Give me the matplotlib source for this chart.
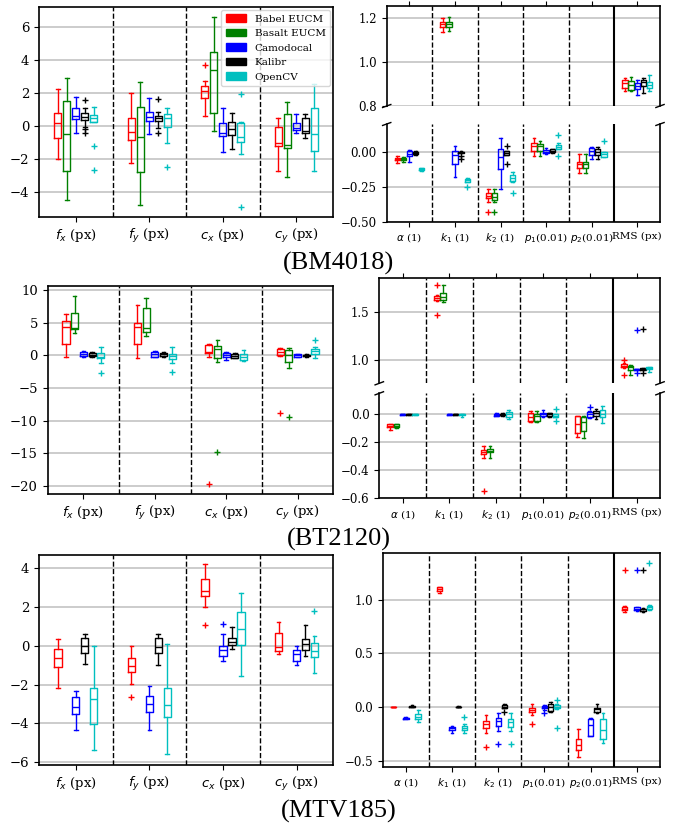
import matplotlib
matplotlib.use('Agg')
import matplotlib.pyplot as plt
from matplotlib.patches import Patch

plt.rcParams['font.family'] = ['DejaVu Serif']
plt.rcParams['mathtext.fontset'] = 'dejavusans'

METHODS = ['Babel EUCM', 'Basalt EUCM', 'Camodocal', 'Kalibr', 'OpenCV']
COLORS = ['#ff0000', '#008000', '#0000ff', '#000000', '#00bfbf']
LEFT_LABELS = [r'$f_x$ (px)', r'$f_y$ (px)', r'$c_x$ (px)', r'$c_y$ (px)']
RIGHT_LABELS = [r'$\alpha$ (1)', r'$k_1$ (1)', r'$k_2$ (1)', r'$p_1$(0.01)', r'$p_2$(0.01)', 'RMS (px)']
TITLES = ['(BM4018)', '(BT2120)', '(MTV185)']

# each entry: (whisker low, q1, median, q3, whisker high, fliers)
BM4018_INTRINSICS = {
    'Babel EUCM': [(-2.02, -0.74, 0.17, 0.82, 2.23, []), (-2.26, -0.84, -0.38, 0.47, 2.03, []),
                   (0.64, 1.69, 2.13, 2.46, 2.76, [3.71]), (-2.7, -1.19, -1.0, -0.03, 0.51, [])],
    'Basalt EUCM': [(-4.5, -2.72, -0.5, 1.53, 2.94, []), (-4.79, -2.8, -0.64, 1.14, 2.66, []),
                    (-0.28, 0.78, 3.41, 4.48, 6.65, []), (-3.07, -1.35, -1.15, 0.74, 1.45, [])],
    'Camodocal': [(-0.4, 0.41, 0.6, 1.08, 1.77, []), (-0.48, 0.31, 0.57, 0.88, 1.69, []),
                  (-1.55, -0.6, -0.44, 0.17, 1.12, []), (-0.44, -0.23, -0.13, 0.17, 0.74, [])],
    'Kalibr': [(-0.03, 0.37, 0.57, 0.82, 1.08, [1.6, -0.2, -0.4]), (-0.13, 0.33, 0.5, 0.64, 0.88, [1.63, -0.44]),
               (-1.39, -0.54, -0.19, 0.27, 0.82, []), (-0.74, -0.4, -0.3, 0.47, 0.74, [])],
    'OpenCV': [(0.23, 0.23, 0.47, 0.68, 1.18, [-1.2, -2.67]), (-1.0, -0.03, 0.51, 0.72, 1.08, [-2.5]),
               (-1.69, -0.94, -0.68, 0.17, 0.27, [1.95, -4.93]), (-2.7, -1.51, -0.5, 1.08, 2.54, [])],
}
BM4018_DISTORTION = {
    'Babel EUCM': [(-0.078, -0.06, -0.052, -0.043, -0.03, []), (1.14, 1.159, 1.174, 1.185, 1.2, []),
                   (-0.362, -0.329, -0.317, -0.298, -0.267, [-0.431]), (-0.029, 0.007, 0.043, 0.06, 0.095, []),
                   (-0.155, -0.119, -0.09, -0.076, -0.017, []), (0.869, 0.884, 0.905, 0.918, 0.93, [])],
    'Basalt EUCM': [(-0.07, -0.06, -0.052, -0.045, -0.036, []), (1.143, 1.159, 1.174, 1.185, 1.205, []),
                    (-0.362, -0.345, -0.321, -0.293, -0.267, [-0.431]), (-0.029, 0.007, 0.043, 0.055, 0.076, []),
                    (-0.155, -0.114, -0.09, -0.071, -0.017, []), (0.869, 0.875, 0.895, 0.913, 0.933, [])],
    'Camodocal': [(-0.076, -0.03, -0.017, 0.005, 0.012, []), (-0.18, -0.09, -0.02, 0.007, 0.043, []),
                  (-0.269, -0.126, -0.036, 0.019, 0.1, []), (-0.019, -0.012, 0.0, 0.012, 0.024, []),
                  (-0.055, -0.024, 0.005, 0.029, 0.036, []), (0.852, 0.879, 0.89, 0.905, 0.92, [])],
    'Kalibr': [(-0.02, -0.014, -0.007, 0.0, 0.005, []), (-0.012, -0.012, -0.005, 0.0, 0.005, [-0.03, -0.052]),
               (-0.024, -0.024, -0.007, 0.007, 0.007, [0.043, -0.088]), (-0.007, -0.002, 0.005, 0.017, 0.019, []),
               (-0.055, -0.024, 0.0, 0.019, 0.036, []), (0.86, 0.89, 0.91, 0.918, 0.928, [])],
    'OpenCV': [(-0.136, -0.131, -0.125, -0.119, -0.114, []), (-0.219, -0.214, -0.205, -0.195, -0.19, [-0.255]),
               (-0.219, -0.21, -0.186, -0.167, -0.148, [-0.293]), (0.019, 0.019, 0.036, 0.048, 0.06, [0.117, -0.031]),
               (-0.04, -0.036, -0.017, 0.0, 0.0, [0.074]), (0.867, 0.88, 0.895, 0.91, 0.94, [])],
}

BT2120_INTRINSICS = {
    'Babel EUCM': [(-0.2, 1.73, 4.29, 5.31, 6.33, []), (-0.46, 1.73, 4.29, 4.9, 7.7, []),
                   (-0.31, 0.31, 0.56, 1.58, 1.73, [-19.74]), (-0.1, 0.05, 0.56, 0.97, 1.07, [-8.88])],
    'Basalt EUCM': [(3.37, 3.98, 4.13, 6.43, 9.08, []), (3.0, 3.62, 4.23, 7.19, 8.83, []),
                    (-1.07, -0.46, 0.97, 1.48, 2.35, [-14.74]), (-1.89, -0.97, 0.05, 0.82, 1.07, [-9.49])],
    'Camodocal': [(-0.31, -0.1, 0.2, 0.46, 0.71, []), (-0.2, -0.2, 0.15, 0.56, 0.71, []),
                  (-0.71, -0.2, 0.05, 0.31, 0.56, []), (-0.31, -0.2, 0.0, 0.15, 0.2, [])],
    'Kalibr': [(-0.2, -0.1, 0.1, 0.31, 0.56, []), (-0.2, -0.1, 0.15, 0.41, 0.56, []),
               (-0.46, -0.36, -0.1, 0.2, 0.41, []), (-0.31, -0.1, 0.0, 0.1, 0.2, [])],
    'OpenCV': [(-1.22, -0.46, -0.31, 0.31, 1.33, [-2.76]), (-1.22, -0.56, -0.1, 0.2, 1.33, [-2.5]),
               (-0.82, -0.71, -0.2, 0.2, 0.82, []), (-0.46, 0.2, 0.66, 0.92, 1.22, [2.35])],
}
BT2120_DISTORTION = {
    'Babel EUCM': [(-0.112, -0.093, -0.081, -0.071, -0.069, []), (1.623, 1.63, 1.65, 1.673, 1.683, [1.789, 1.472]),
                   (-0.314, -0.286, -0.267, -0.255, -0.226, [-0.548]), (-0.057, -0.048, -0.017, 0.007, 0.026, []),
                   (-0.164, -0.136, -0.069, -0.012, -0.01, []), (0.908, 0.919, 0.937, 0.954, 0.968, [1.0, 0.84])],
    'Basalt EUCM': [(-0.1, -0.093, -0.081, -0.071, -0.069, []), (1.606, 1.63, 1.665, 1.70, 1.789, []),
                    (-0.314, -0.271, -0.26, -0.248, -0.226, []), (-0.057, -0.048, -0.01, 0.002, 0.026, []),
                    (-0.167, -0.119, -0.057, -0.017, -0.012, []), (0.838, 0.891, 0.919, 0.933, 0.944, [])],
    'Camodocal': [(-0.004, -0.002, 0.0, 0.002, 0.004, []), (-0.004, -0.002, 0.0, 0.002, 0.004, []),
                  (-0.012, -0.01, -0.002, 0.005, 0.007, []), (-0.017, -0.01, 0.0, 0.012, 0.031, []),
                  (-0.029, -0.017, 0.0, 0.014, 0.024, [0.055]), (0.891, 0.891, 0.898, 0.905, 0.905, [1.313, 0.856])],
    'Kalibr': [(-0.003, -0.002, 0.0, 0.002, 0.003, []), (-0.003, -0.002, 0.0, 0.002, 0.003, []),
               (-0.01, -0.008, -0.002, 0.004, 0.006, []), (-0.017, -0.01, 0.0, 0.01, 0.012, []),
               (-0.033, -0.012, 0.007, 0.024, 0.036, []), (0.894, 0.894, 0.905, 0.912, 0.912, [1.32, 0.863])],
    'OpenCV': [(-0.004, -0.002, 0.0, 0.002, 0.004, []), (-0.02, -0.005, 0.0, 0.002, 0.004, []),
               (-0.033, -0.017, 0.0, 0.014, 0.031, []), (-0.021, -0.021, -0.01, 0.0, 0.0, [0.036, -0.045]),
               (-0.06, -0.021, 0.002, 0.031, 0.062, []), (0.873, 0.901, 0.908, 0.919, 0.926, [])],
}

MTV185_INTRINSICS = {
    'Babel EUCM': [(-2.15, -1.07, -0.6, -0.18, 0.34, []), (-1.96, -1.36, -1.03, -0.64, 0.0, [-2.62]),
                   (1.99, 2.57, 2.85, 3.43, 4.22, [1.08]), (-0.43, -0.24, -0.07, 0.68, 1.25, [])],
    'Camodocal': [(-4.33, -3.51, -3.13, -2.62, -2.31, []), (-4.33, -3.42, -2.99, -2.56, -2.07, []),
                  (-0.78, -0.52, -0.21, 0.01, 0.6, [1.13]), (-0.98, -0.78, -0.43, -0.21, 0.01, [])],
    'Kalibr': [(-0.93, -0.35, 0.01, 0.39, 0.62, []), (-0.98, -0.38, -0.04, 0.43, 0.6, []),
               (-0.18, 0.05, 0.22, 0.39, 0.96, []), (-0.52, -0.21, 0.08, 0.34, 1.08, [])],
    'OpenCV': [(-5.36, -4.02, -2.74, -2.15, 0.0, []), (-5.59, -3.68, -3.04, -2.15, 0.08, []),
               (-1.55, 0.05, 0.87, 1.77, 2.75, []), (-1.41, -0.59, -0.26, 0.17, 0.51, [1.82])],
}
MTV185_DISTORTION = {
    'Babel EUCM': [(-0.005, -0.003, 0.0, 0.002, 0.003, []), (1.056, 1.08, 1.1, 1.12, 1.12, []),
                   (-0.24, -0.2, -0.159, -0.128, -0.075, [-0.37]), (-0.075, -0.05, -0.029, -0.013, 0.027, [-0.159]),
                   (-0.469, -0.4, -0.354, -0.301, -0.205, []), (0.885, 0.901, 0.916, 0.932, 0.938, [1.279])],
    'Camodocal': [(-0.115, -0.112, -0.106, -0.1, -0.095, []), (-0.24, -0.215, -0.2, -0.184, -0.174, []),
                  (-0.221, -0.178, -0.128, -0.106, -0.06, [-0.348]), (-0.029, -0.013, 0.002, 0.011, 0.018, [-0.06]),
                  (-0.267, -0.267, -0.168, -0.112, -0.106, []), (0.895, 0.901, 0.916, 0.926, 0.932, [1.279])],
    'Kalibr': [(-0.005, -0.003, 0.0, 0.008, 0.015, []), (-0.003, -0.002, 0.0, 0.003, 0.006, []),
               (-0.013, -0.013, 0.002, 0.018, 0.027, [-0.05]), (-0.05, -0.038, 0.002, 0.027, 0.042, []),
               (-0.06, -0.044, -0.023, -0.007, 0.027, []), (0.882, 0.895, 0.907, 0.916, 0.922, [1.279])],
    'OpenCV': [(-0.137, -0.112, -0.091, -0.066, -0.03, []), (-0.24, -0.215, -0.193, -0.174, -0.159, [-0.091]),
               (-0.221, -0.184, -0.144, -0.116, -0.06, [-0.348]), (-0.023, -0.013, 0.002, 0.018, 0.027, [0.064, -0.2]),
               (-0.339, -0.301, -0.215, -0.112, -0.06, []), (0.901, 0.907, 0.926, 0.938, 0.947, [1.34])],
}

W, H = 674, 827
fig = plt.figure(figsize=(W / 100, H / 100), dpi=100)


def add_ax(x0, y0, x1, y1):
    return fig.add_axes([x0 / W, 1 - y1 / H, (x1 - x0) / W, (y1 - y0) / H])


def draw_boxes(ax, data, step, width):
    for mi, m in enumerate(METHODS):
        if m not in data:
            continue
        c = COLORS[mi]
        stats = [dict(whislo=s[0], q1=s[1], med=s[2], q3=s[3], whishi=s[4], fliers=s[5]) for s in data[m]]
        pos = [g + 1 + (mi - 2) * step for g in range(len(stats))]
        ax.bxp(stats, positions=pos, widths=width, manage_ticks=False,
               boxprops=dict(color=c, lw=1.0), whiskerprops=dict(color=c, lw=1.0),
               capprops=dict(color=c, lw=1.0), medianprops=dict(color=c, lw=1.0),
               flierprops=dict(marker='+', markeredgecolor=c, markersize=4, linestyle='none', mew=1.0))


def style(ax, n, labels, ysize, xsize, seps):
    ax.set_xlim(0.5, n + 0.5)
    ax.set_xticks(range(1, n + 1))
    ax.set_xticklabels(labels, fontsize=xsize)
    ax.tick_params(axis='y', labelsize=ysize)
    ax.yaxis.grid(True, color='#c4c4c4', lw=1.2)
    ax.set_axisbelow(True)
    for k, ls in seps:
        ax.axvline(k + 0.5, color='k', ls=ls, lw=1.0 if ls == '--' else 1.5)
    for sp in ax.spines.values():
        sp.set_linewidth(1.2)


LEFT_SEPS = [(1, '--'), (2, '--'), (3, '--')]
RIGHT_SEPS = [(1, '--'), (2, '--'), (3, '--'), (4, '--'), (5, '-')]


def left_panel(box, data, ylim, yticks, legend=False):
    ax = add_ax(*box)
    draw_boxes(ax, data, 0.122, 0.1)
    style(ax, 4, LEFT_LABELS, 9.5, 9.5, LEFT_SEPS)
    ax.set_ylim(*ylim)
    ax.set_yticks(yticks)
    if legend:
        handles = [Patch(facecolor=c, edgecolor=c, label=m) for m, c in zip(METHODS, COLORS)]
        ax.legend(handles=handles, loc='upper right', fontsize=7.5, borderaxespad=0.3)
    return ax


def broken_panel(x0, x1, ytop, ymid1, ymid2, ybot, data, lim_top, ticks_top, lim_bot, ticks_bot):
    a1 = add_ax(x0, ytop, x1, ymid1)
    a2 = add_ax(x0, ymid2, x1, ybot)
    for a in (a1, a2):
        draw_boxes(a, data, 0.134, 0.117)
        style(a, 6, RIGHT_LABELS, 8.5, 7.5, RIGHT_SEPS)
    a1.set_ylim(*lim_top)
    a1.set_yticks(ticks_top)
    a2.set_ylim(*lim_bot)
    a2.set_yticks(ticks_bot)
    a1.spines['bottom'].set_visible(False)
    a2.spines['top'].set_visible(False)
    a1.xaxis.tick_top()
    a1.tick_params(labeltop=False)
    a2.xaxis.tick_bottom()
    d = 0.015
    kw = dict(transform=a1.transAxes, color='k', clip_on=False, lw=1.0)
    a1.plot((-d, +d), (-d, +d), **kw)
    a1.plot((1 - d, 1 + d), (-d, +d), **kw)
    kw.update(transform=a2.transAxes)
    a2.plot((-d, +d), (1 - d, 1 + d), **kw)
    a2.plot((1 - d, 1 + d), (1 - d, 1 + d), **kw)


# Row 1 : BM4018
left_panel((39, 7, 333, 217), BM4018_INTRINSICS, (-5.52, 7.23), [-4, -2, 0, 2, 4, 6], legend=True)
broken_panel(386.7, 660, 5.7, 106, 124, 221.7, BM4018_DISTORTION,
             (0.8, 1.258), [0.8, 1.0, 1.2], (-0.5, 0.198), [-0.5, -0.25, 0.0])

# Row 2 : BT2120
left_panel((47.7, 286, 333.3, 494), BT2120_INTRINSICS, (-21.2, 10.6), [-20, -15, -10, -5, 0, 5, 10])
broken_panel(379.3, 660, 278.3, 383.3, 393.3, 498.3, BT2120_DISTORTION,
             (0.75, 1.86), [1.0, 1.5], (-0.6, 0.15), [-0.6, -0.4, -0.2, 0.0])

# Row 3 : MTV185
left_panel((39, 554.7, 333.3, 765), MTV185_INTRINSICS, (-6.14, 4.7), [-6, -4, -2, 0, 2, 4])
ax = add_ax(382.7, 553.3, 660, 766.7)
draw_boxes(ax, MTV185_DISTORTION, 0.134, 0.117)
style(ax, 6, RIGHT_LABELS, 8.5, 7.5, RIGHT_SEPS)
ax.set_ylim(-0.556, 1.43)
ax.set_yticks([-0.5, 0.0, 0.5, 1.0])

for title, yc in zip(TITLES, [263, 539, 811]):
    fig.text(339 / W, 1 - yc / H, title, ha='center', va='center', fontsize=19, family='Liberation Serif')

fig.savefig('out.png', dpi=100)
